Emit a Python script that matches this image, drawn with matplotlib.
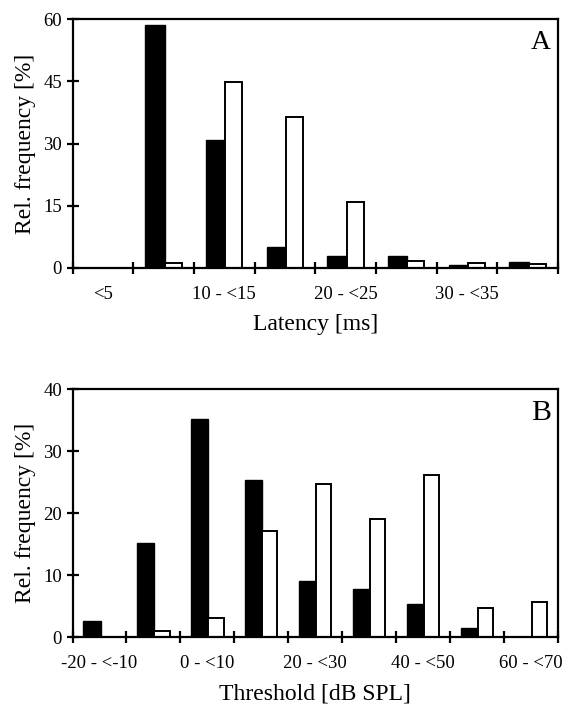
import matplotlib
matplotlib.use("Agg")
import matplotlib.pyplot as plt
import numpy as np

plt.rcParams['font.family'] = ['Liberation Serif', 'DejaVu Serif']

# Panel A: latency
lat_cats = ["<5", "5 - <10", "10 - <15", "15 - <20", "20 - <25", "25 - <30", "30 - <35", "35 - <40"]
lat_black = [0, 58.6, 30.9, 5.0, 2.9, 3.0, 0.8, 1.5]
lat_white = [0, 1.1, 44.7, 36.4, 16.0, 1.7, 1.3, 0.9]
lat_yticks = [0, 15, 30, 45, 60]

# Panel B: threshold
thr_cats = ["-20 - <-10", "-10 - <0", "0 - <10", "10 - <20", "20 - <30", "30 - <40", "40 - <50", "50 - <60", "60 - <70"]
thr_black = [2.6, 15.2, 35.1, 25.3, 9.0, 7.8, 5.3, 1.5, 0]
thr_white = [0, 1.0, 3.1, 17.1, 24.6, 19.1, 26.2, 4.7, 5.7]
thr_yticks = [0, 10, 20, 30, 40]

fig = plt.figure(figsize=(5.65, 7.07), dpi=100)

def panel(rect, cats, black, white, yticks, xlabel, letter, letter_size):
    ax = fig.add_axes(rect)
    n = len(cats)
    idx = np.arange(n)
    ax.bar(idx + 0.2, black, width=0.32, align='edge', color='black',
           edgecolor='black', linewidth=1.0, zorder=3)
    ax.bar(idx + 0.52, white, width=0.28, align='edge', color='white',
           edgecolor='black', linewidth=1.4, zorder=3)
    ax.set_xlim(0, n)
    ax.set_ylim(0, yticks[-1])
    ax.set_yticks(yticks)
    ax.set_yticklabels([str(v) for v in yticks], fontsize=13.5)
    ax.set_xticks(np.arange(n + 1))
    ax.set_xticklabels([])
    ax.set_xticks(idx[::2] + 0.5, minor=True)
    ax.set_xticklabels([cats[i] for i in idx[::2]], minor=True, fontsize=13.5)
    ax.tick_params(axis='x', which='major', direction='inout', length=9, width=1.6)
    ax.tick_params(axis='x', which='minor', length=0, pad=13)
    ax.tick_params(axis='y', direction='inout', length=9, width=1.6, pad=3)
    for s in ax.spines.values():
        s.set_linewidth(1.6)
        s.set_zorder(4)
    ax.set_xlabel(xlabel, fontsize=17, labelpad=8)
    ax.set_ylabel("Rel. frequency [%]", fontsize=17, labelpad=5)
    ax.text(0.985, 0.955, letter, transform=ax.transAxes, ha='right', va='top',
            fontsize=letter_size)
    return ax

left = 72.5 / 565
width = 485.5 / 565
panel([left, 1 - 268 / 707, width, 249 / 707], lat_cats, lat_black, lat_white,
      lat_yticks, "Latency [ms]", "A", 20)
panel([left, 1 - 637 / 707, width, 248 / 707], thr_cats, thr_black, thr_white,
      thr_yticks, "Threshold [dB SPL]", "B", 21.5)

fig.savefig("out.png", dpi=100)
